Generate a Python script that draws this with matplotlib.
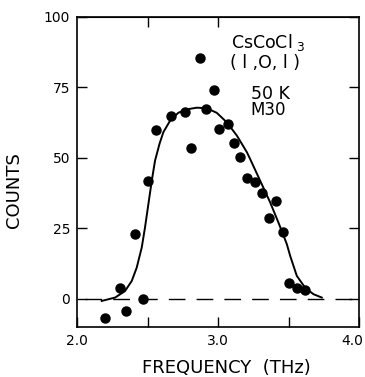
import matplotlib
matplotlib.use('Agg')
import matplotlib.pyplot as plt
from matplotlib.ticker import FixedLocator, NullFormatter
from matplotlib.transforms import ScaledTranslation

# --- dados ---
freq_pts = [2.20, 2.307, 2.349, 2.408, 2.465, 2.50, 2.559, 2.665, 2.764, 2.809,
            2.873, 2.915, 2.974, 3.007, 3.073, 3.113, 3.156, 3.208, 3.259, 3.309,
            3.363, 3.410, 3.462, 3.505, 3.557, 3.616]
counts_pts = [-6.8, 3.7, -4.4, 23.1, 0.0, 41.6, 59.7, 64.8, 66.2, 53.6,
              85.3, 67.4, 74.1, 60.3, 62.0, 55.4, 50.3, 42.8, 41.4, 37.4,
              28.8, 34.8, 23.6, 5.7, 3.7, 3.0]

# curva ajustada (lida ponto a ponto)
freq_fit = [2.175, 2.27, 2.34, 2.388, 2.423, 2.459, 2.482, 2.506, 2.53, 2.553,
            2.585, 2.612, 2.66, 2.718, 2.778, 2.849, 2.92, 2.99, 3.062, 3.133,
            3.204, 3.227, 3.298, 3.369, 3.428, 3.487, 3.511, 3.558, 3.617, 3.676,
            3.735]
counts_fit = [-0.8, 0.4, 2.7, 6.3, 11.0, 18.2, 25.3, 33.6, 41.9, 49.0,
              55.0, 59.1, 63.2, 66.0, 67.2, 67.8, 67.6, 66.0, 62.6, 57.9,
              52.0, 49.6, 41.9, 34.2, 27.0, 19.4, 15.2, 8.1, 3.9, 1.6,
              0.4]

xticks = [2.0, 3.0, 4.0]
xtick_labels = ['2.0', '3.0', '4.0']
yticks = [0, 25, 50, 75, 100]
ytick_labels = ['0', '25', '50', '75', '100']

plt.rcParams['font.family'] = ['DejaVu Sans']

fig = plt.figure(figsize=(3.65, 3.77), dpi=100)
ax = fig.add_axes([0.211, 0.133, 0.773, 0.822])

ax.plot([2.06, 4.0], [0, 0], color='black', lw=1.0, dashes=(12, 8))
ax.plot(freq_fit, counts_fit, color='black', lw=1.4, solid_joinstyle='round')
ax.plot(freq_pts, counts_pts, 'o', color='black', markersize=6.5)

ax.set_xlim(2.0, 4.0)
ax.set_ylim(-10, 100)

ax.set_xticks(xticks)
labels_x = ax.set_xticklabels(xtick_labels)
ax.xaxis.set_minor_locator(FixedLocator([2.5, 3.5]))
ax.xaxis.set_minor_formatter(NullFormatter())
ax.set_yticks(yticks)
ax.set_yticklabels(ytick_labels)
ax.tick_params(axis='both', which='both', direction='in', length=7, width=1.0,
               labelsize=10, pad=5)
ax.tick_params(axis='y', right=True)

# o rótulo 4.0 fica encostado na borda; puxa um pouco pra esquerda
ult = labels_x[-1]
ult.set_transform(ult.get_transform() + ScaledTranslation(-5 / 72, 0, fig.dpi_scale_trans))

# ticks no topo
sec = ax.secondary_xaxis('top')
sec.set_xticks([2.5, 3.0])
sec.set_xticklabels([])
sec.tick_params(direction='in', length=7, width=1.0)

for s in ax.spines.values():
    s.set_linewidth(1.2)

ax.set_xlabel('FREQUENCY  (THz)', fontsize=13)
ax.xaxis.set_label_coords(0.528, -0.105)
ax.set_ylabel('COUNTS', fontsize=13)
ax.yaxis.set_label_coords(-0.19, 0.44)

ax.text(3.35, 91, r'CsCoCl$_{\ 3}$', fontsize=12.5, ha='center', va='center')
ax.text(3.33, 83.5, '( l ,O, l )', fontsize=12.5, ha='center', va='center')
ax.text(3.23, 72.8, '50 K', fontsize=12.5, ha='left', va='center')
ax.text(3.23, 66.8, 'M30', fontsize=12, ha='left', va='center')

fig.savefig('out.png', dpi=100)
